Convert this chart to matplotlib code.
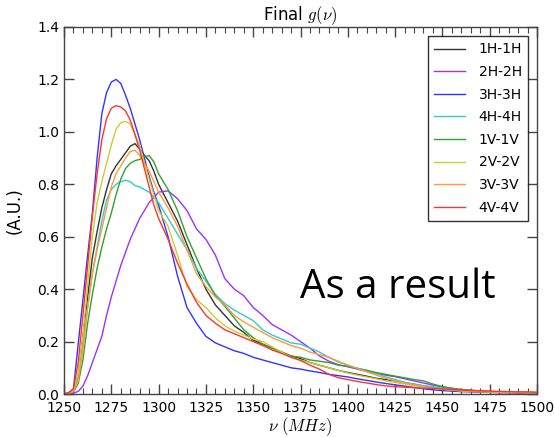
import numpy as np
import matplotlib
matplotlib.use("Agg")
import matplotlib.pyplot as plt
from matplotlib.ticker import MultipleLocator, FormatStrFormatter

plt.rcParams['mathtext.fontset'] = 'cm'

freq = [1250, 1252.5, 1255, 1257.5, 1260, 1262.5, 1265, 1267.5, 1270, 1272.5,
        1275, 1277.5, 1280, 1282.5, 1285, 1287.5, 1290, 1292.5, 1295, 1297.5,
        1300, 1305, 1310, 1315, 1320, 1325, 1330, 1335, 1340, 1345,
        1350, 1355, 1360, 1365, 1370, 1375, 1380, 1385, 1390, 1395,
        1400, 1405, 1410, 1415, 1420, 1425, 1430, 1435, 1440, 1445,
        1450, 1455, 1460, 1465, 1470, 1475, 1480, 1485, 1490, 1495, 1500]

g_1H = [0, 0.003, 0.012, 0.06, 0.22, 0.37, 0.52, 0.62, 0.71, 0.78,
        0.84, 0.87, 0.895, 0.92, 0.945, 0.955, 0.935, 0.91, 0.89, 0.85,
        0.80, 0.73, 0.66, 0.57, 0.48, 0.40, 0.34, 0.30, 0.26, 0.235,
        0.205, 0.19, 0.175, 0.16, 0.145, 0.135, 0.12, 0.11, 0.10, 0.09,
        0.082, 0.075, 0.068, 0.06, 0.055, 0.05, 0.043, 0.037, 0.03, 0.025,
        0.02, 0.016, 0.013, 0.011, 0.009, 0.008, 0.007, 0.006, 0.006, 0.005, 0.005]

g_2H = [0, 0.0, 0.003, 0.01, 0.03, 0.07, 0.12, 0.17, 0.22, 0.30,
        0.37, 0.43, 0.49, 0.54, 0.59, 0.63, 0.67, 0.70, 0.73, 0.75,
        0.77, 0.775, 0.745, 0.70, 0.63, 0.59, 0.53, 0.44, 0.40, 0.375,
        0.33, 0.30, 0.265, 0.245, 0.225, 0.20, 0.175, 0.145, 0.125, 0.112,
        0.104, 0.095, 0.086, 0.078, 0.072, 0.066, 0.058, 0.05, 0.042, 0.034,
        0.027, 0.021, 0.017, 0.014, 0.012, 0.009, 0.008, 0.007, 0.006, 0.005, 0.005]

g_3H = [0, 0.005, 0.02, 0.19, 0.36, 0.53, 0.69, 0.90, 1.07, 1.15,
        1.19, 1.20, 1.185, 1.14, 1.09, 1.03, 0.97, 0.90, 0.83, 0.77,
        0.72, 0.60, 0.45, 0.33, 0.27, 0.22, 0.195, 0.18, 0.165, 0.155,
        0.14, 0.13, 0.12, 0.11, 0.10, 0.095, 0.088, 0.082, 0.075, 0.07,
        0.065, 0.058, 0.052, 0.046, 0.04, 0.035, 0.03, 0.025, 0.02, 0.016,
        0.013, 0.011, 0.009, 0.008, 0.007, 0.006, 0.005, 0.005, 0.004, 0.004, 0.004]

g_4H = [0, 0.003, 0.012, 0.06, 0.18, 0.33, 0.46, 0.56, 0.66, 0.74,
        0.78, 0.80, 0.81, 0.815, 0.81, 0.795, 0.79, 0.78, 0.77, 0.75,
        0.73, 0.67, 0.61, 0.55, 0.48, 0.43, 0.38, 0.345, 0.32, 0.30,
        0.28, 0.245, 0.225, 0.21, 0.195, 0.19, 0.175, 0.16, 0.14, 0.122,
        0.11, 0.098, 0.09, 0.078, 0.065, 0.055, 0.045, 0.038, 0.032, 0.028,
        0.022, 0.018, 0.014, 0.012, 0.01, 0.009, 0.008, 0.007, 0.006, 0.006, 0.005]

g_1V = [0, 0.002, 0.008, 0.04, 0.13, 0.27, 0.38, 0.48, 0.56, 0.63,
        0.69, 0.76, 0.82, 0.86, 0.88, 0.89, 0.895, 0.905, 0.91, 0.885,
        0.84, 0.78, 0.70, 0.60, 0.52, 0.44, 0.375, 0.335, 0.29, 0.245,
        0.215, 0.19, 0.175, 0.16, 0.145, 0.14, 0.13, 0.125, 0.12, 0.11,
        0.105, 0.098, 0.09, 0.082, 0.075, 0.068, 0.062, 0.055, 0.05, 0.038,
        0.028, 0.022, 0.017, 0.014, 0.012, 0.01, 0.008, 0.007, 0.006, 0.006, 0.005]

g_2V = [0, 0.003, 0.015, 0.08, 0.22, 0.42, 0.60, 0.73, 0.81, 0.88,
        0.95, 1.01, 1.035, 1.04, 1.03, 0.99, 0.95, 0.88, 0.82, 0.76,
        0.70, 0.64, 0.53, 0.41, 0.36, 0.33, 0.29, 0.26, 0.24, 0.225,
        0.21, 0.20, 0.18, 0.16, 0.14, 0.13, 0.12, 0.11, 0.10, 0.09,
        0.08, 0.072, 0.065, 0.058, 0.05, 0.044, 0.038, 0.032, 0.027, 0.022,
        0.018, 0.015, 0.012, 0.01, 0.009, 0.008, 0.007, 0.006, 0.006, 0.005, 0.005]

g_3V = [0, 0.003, 0.01, 0.05, 0.17, 0.33, 0.46, 0.55, 0.63, 0.71,
        0.79, 0.84, 0.87, 0.90, 0.925, 0.93, 0.91, 0.88, 0.85, 0.81,
        0.77, 0.71, 0.64, 0.55, 0.46, 0.41, 0.37, 0.34, 0.30, 0.275,
        0.255, 0.235, 0.215, 0.20, 0.185, 0.175, 0.16, 0.15, 0.14, 0.125,
        0.11, 0.098, 0.085, 0.072, 0.06, 0.05, 0.042, 0.035, 0.028, 0.022,
        0.018, 0.015, 0.012, 0.01, 0.009, 0.008, 0.007, 0.006, 0.006, 0.005, 0.005]

g_4V = [0, 0.005, 0.02, 0.12, 0.30, 0.49, 0.68, 0.84, 0.97, 1.05,
        1.09, 1.10, 1.095, 1.08, 1.045, 0.99, 0.93, 0.86, 0.79, 0.72,
        0.67, 0.59, 0.50, 0.42, 0.35, 0.30, 0.27, 0.245, 0.23, 0.215,
        0.20, 0.185, 0.168, 0.155, 0.14, 0.128, 0.11, 0.095, 0.075, 0.062,
        0.055, 0.048, 0.042, 0.036, 0.031, 0.028, 0.026, 0.024, 0.022, 0.021,
        0.019, 0.017, 0.015, 0.013, 0.012, 0.011, 0.01, 0.009, 0.008, 0.008, 0.007]

labels = ["1H-1H", "2H-2H", "3H-3H", "4H-4H", "1V-1V", "2V-2V", "3V-3V", "4V-4V"]
series = [g_1H, g_2H, g_3H, g_4H, g_1V, g_2V, g_3V, g_4V]
colors = ["#333333", "#9933ff", "#3333ff", "#33cccc", "#33a033", "#cccc33", "#ff9a40", "#ff3333"]

fig = plt.figure(figsize=(5.54, 4.37), dpi=100)
ax = fig.add_axes([64/554, 1 - 394/437, (537-64)/554, (394-27)/437])

for lab, vals, col in zip(labels, series, colors):
    ax.plot(freq, vals, color=col, lw=1.0, label=lab)

ax.set_xlim(1250, 1500)
ax.set_ylim(0, 1.4)
ax.xaxis.set_major_locator(MultipleLocator(25))
ax.xaxis.set_minor_locator(MultipleLocator(5))
ax.yaxis.set_major_locator(MultipleLocator(0.2))
ax.yaxis.set_major_formatter(FormatStrFormatter('%.1f'))
ax.tick_params(which='both', direction='in', top=True, right=True, labelsize=10, color='#444444')
ax.tick_params(which='major', length=7, width=1)
ax.tick_params(which='minor', length=4, width=0.8)
ax.tick_params(axis='x', which='major', pad=5)
for sp in ax.spines.values():
    sp.set_color('#444444')
    sp.set_linewidth(1.0)

ax.set_title(r"Final $g(\nu)$", fontsize=12, pad=2)
ax.set_ylabel("(A.U.)", fontsize=12, labelpad=10)
ax.set_xlabel(r"$\nu\ (MHz)$", fontsize=12, labelpad=0)

leg = ax.legend(loc='upper right', fontsize=10, frameon=True, fancybox=False,
                handlelength=2.2, borderpad=0.45, labelspacing=0.62, handletextpad=1.0,
                bbox_to_anchor=(0.996, 0.994))
leg.get_frame().set_edgecolor('black')
leg.get_frame().set_linewidth(1.0)

ax.text(0.705, 0.29, "As a result", transform=ax.transAxes, fontsize=29,
        family="Open Sans", ha='center', va='center', color='black')

fig.savefig("out.png", dpi=100)
